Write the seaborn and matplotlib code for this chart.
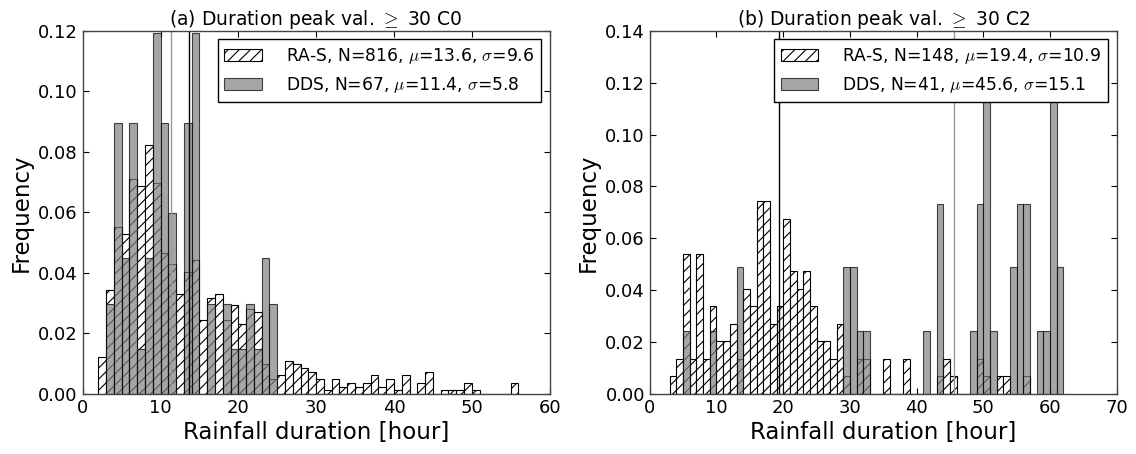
import numpy as np
import pandas as pd
import matplotlib
matplotlib.use("Agg")
import matplotlib.pyplot as plt
import seaborn as sns
from matplotlib.patches import Patch
from matplotlib.ticker import FormatStrFormatter, MultipleLocator

# ---------------- data (counts per 1-hour bin, bin left edge in hours) -------------
# Panel (a): peak val >= 30, C0
ras_c0_hours = [2, 3, 4, 5, 6, 7, 8, 9, 10, 11, 12, 13, 14, 15, 16, 17, 18, 19, 20, 21,
                22, 23, 24, 25, 26, 27, 28, 29, 30, 31, 32, 33, 34, 35, 36, 37, 38, 39,
                40, 41, 43, 44, 46, 47, 48, 49, 50, 55]
ras_c0_counts = [10, 28, 45, 43, 58, 56, 67, 57, 38, 35, 27, 33, 36, 20, 26, 27, 20, 24,
                 19, 23, 22, 8, 4, 5, 9, 8, 7, 6, 4, 1, 4, 2, 3, 2, 3, 5, 2, 4, 1, 5, 3,
                 6, 1, 1, 1, 3, 1, 3]
dds_c0_hours = [3, 4, 5, 6, 7, 8, 9, 10, 11, 13, 14, 16, 18, 19, 20, 21, 22, 23, 24]
dds_c0_counts = [2, 6, 3, 6, 1, 3, 8, 6, 4, 6, 8, 2, 2, 1, 1, 2, 1, 3, 2]

# Panel (b): peak val >= 30, C2
ras_c2_hours = [3, 4, 5, 6, 7, 8, 9, 10, 11, 12, 13, 14, 15, 16, 17, 18, 19, 20, 21, 22,
                23, 24, 25, 26, 27, 28, 29, 31, 32, 35, 38, 43, 44, 45, 49, 50, 52, 53, 56]
ras_c2_counts = [1, 2, 8, 2, 8, 2, 5, 3, 3, 4, 2, 6, 5, 11, 11, 4, 5, 10, 7, 6, 7, 5, 3,
                 3, 2, 4, 1, 2, 2, 2, 2, 1, 2, 1, 2, 1, 1, 1, 1]
dds_c2_hours = [5, 9, 13, 29, 30, 31, 32, 41, 43, 48, 49, 50, 51, 54, 55, 56, 58, 59, 60, 61]
dds_c2_counts = [1, 1, 2, 2, 2, 1, 1, 1, 3, 1, 3, 5, 1, 2, 3, 3, 1, 1, 5, 2]

# summary statistics shown in legends (mean, std)
ras_c0_stats = [13.6, 9.6]
dds_c0_stats = [11.4, 5.8]
ras_c2_stats = [19.4, 10.9]
dds_c2_stats = [45.6, 15.1]

titles = [r"(a) Duration peak val. $\geq$ 30 C0", r"(b) Duration peak val. $\geq$ 30 C2"]
xlims = [60, 70]
ylims = [0.12, 0.14]

# ---------------- style -------------
sns.set_theme(style="ticks")
plt.rcParams["font.family"] = ["DejaVu Sans"]
plt.rcParams["mathtext.fontset"] = "cm"
plt.rcParams["hatch.linewidth"] = 0.8
plt.rcParams["xtick.direction"] = "in"
plt.rcParams["ytick.direction"] = "in"
plt.rcParams["xtick.top"] = True
plt.rcParams["ytick.right"] = True
plt.rcParams["text.color"] = "black"
plt.rcParams["axes.labelcolor"] = "black"
plt.rcParams["axes.titlecolor"] = "black"

fig = plt.figure(figsize=(11.36, 4.54), dpi=100)
axes = [fig.add_axes([0.0728, 0.1322, 0.411, 0.800]),
        fig.add_axes([0.572, 0.1322, 0.411, 0.800])]

RAS_FACE = "white"
DDS_FACE = (0.5, 0.5, 0.5, 0.7)
DDS_EDGE = (0.0, 0.0, 0.0, 0.7)

panels = [
    (ras_c0_hours, ras_c0_counts, dds_c0_hours, dds_c0_counts, ras_c0_stats, dds_c0_stats),
    (ras_c2_hours, ras_c2_counts, dds_c2_hours, dds_c2_counts, ras_c2_stats, dds_c2_stats),
]

for i, (ax, (rh, rc, dh, dc, rs, ds)) in enumerate(zip(axes, panels)):
    rn, dn = sum(rc), sum(dc)
    rdf = pd.DataFrame({"hour": np.array(rh) + 0.5, "freq": np.array(rc) / rn})
    ddf = pd.DataFrame({"hour": np.array(dh) + 0.5, "freq": np.array(dc) / dn})

    sns.histplot(data=rdf, x="hour", weights="freq", binwidth=1,
                 binrange=(min(rh), max(rh) + 1), stat="count",
                 element="bars", fill=True, ax=ax, facecolor=RAS_FACE,
                 edgecolor="black", hatch="///", linewidth=0.8, alpha=1)
    sns.histplot(data=ddf, x="hour", weights="freq", binwidth=1,
                 binrange=(min(dh), max(dh) + 1), stat="count",
                 element="bars", fill=True, ax=ax, facecolor=DDS_FACE,
                 edgecolor=DDS_EDGE, linewidth=0.8)

    ax.axvline(rs[0], color="black", lw=1.0)
    ax.axvline(ds[0], color="#999999", lw=1.0)

    ax.set_xlim(0, xlims[i])
    ax.set_ylim(0, ylims[i])
    ax.xaxis.set_major_locator(MultipleLocator(10))
    ax.yaxis.set_major_locator(MultipleLocator(0.02))
    ax.yaxis.set_major_formatter(FormatStrFormatter("%.2f"))
    ax.tick_params(labelsize=13, length=4, width=0.8, colors="black")
    for sp in ax.spines.values():
        sp.set_visible(True)
        sp.set_color("#444444")
        sp.set_linewidth(1.0)

    ax.set_title(titles[i], fontsize=13.5, pad=3)
    ax.set_xlabel("Rainfall duration [hour]", fontsize=16.5, labelpad=3)
    ax.set_ylabel("Frequency", fontsize=16.5)

    handles = [Patch(facecolor=RAS_FACE, edgecolor="black", hatch="///", linewidth=0.8),
               Patch(facecolor=DDS_FACE, edgecolor=DDS_EDGE, linewidth=0.8)]
    labels = [rf"RA-S, N={rn}, $\mu$={rs[0]}, $\sigma$={rs[1]}",
              rf"DDS, N={dn}, $\mu$={ds[0]}, $\sigma$={ds[1]}"]
    leg = ax.legend(handles, labels, loc="upper right", fontsize=12.3, fancybox=False,
                    framealpha=1, edgecolor="black", handlelength=2.2,
                    handletextpad=1.4)
    leg.get_frame().set_linewidth(1.0)

fig.savefig("out.png", dpi=100)
